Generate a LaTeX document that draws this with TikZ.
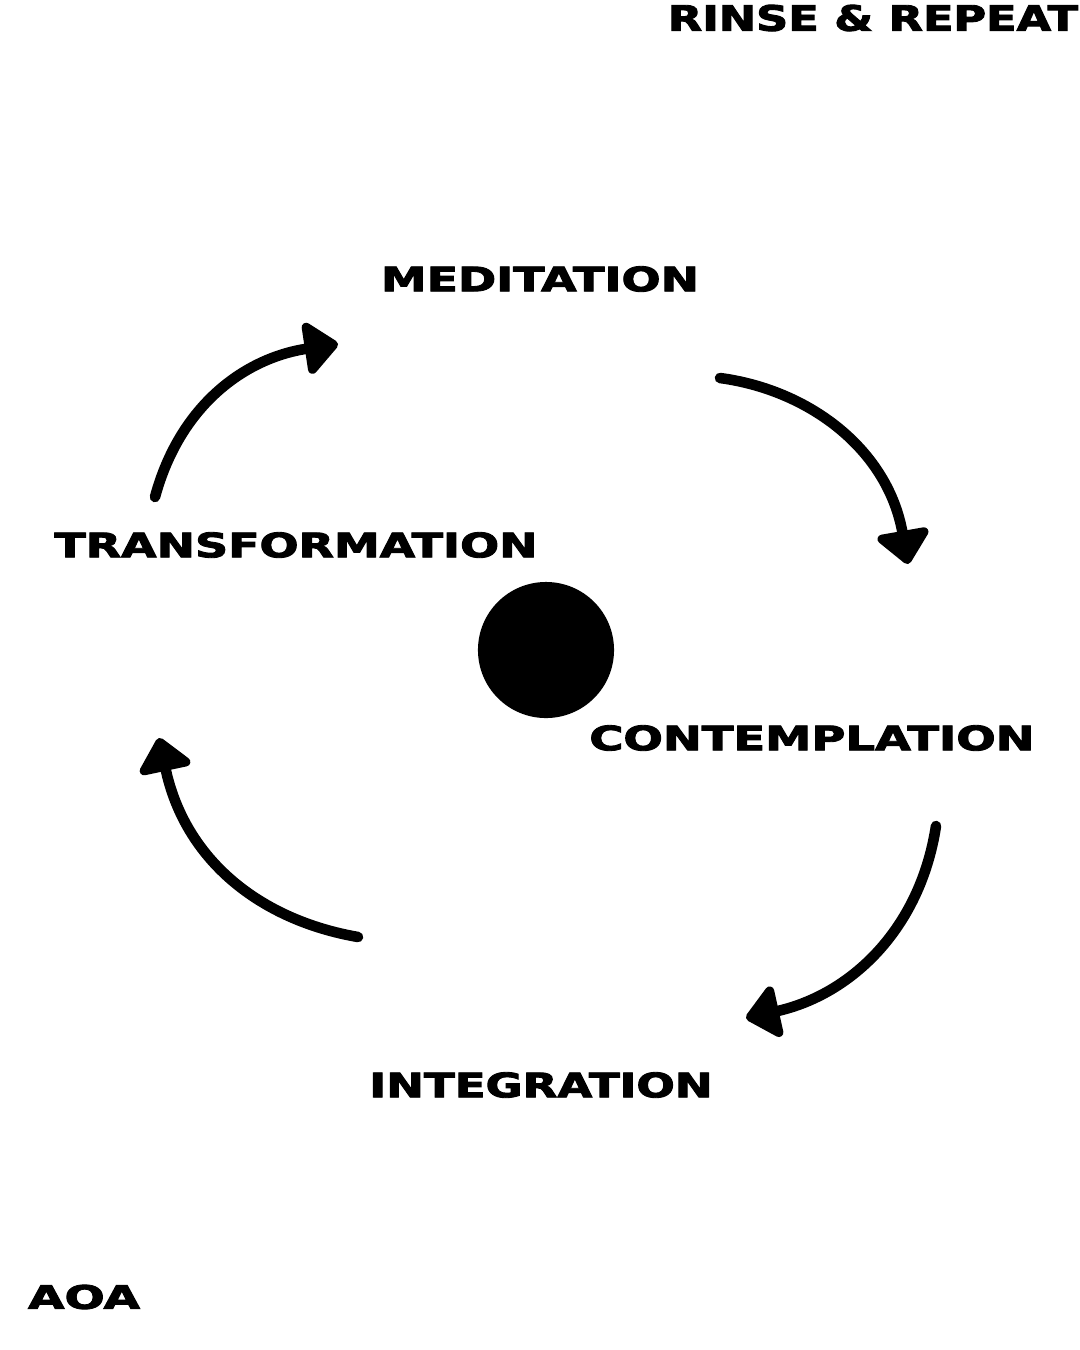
\documentclass[tikz,border=0pt]{standalone}
\usepackage{fontspec}
\usepackage{graphicx}
\setmainfont{DejaVu Sans}[BoldFeatures={FakeBold=2.5}]
\usetikzlibrary{arrows.meta}
% fit a caption into a given width and cap height
\newcommand{\fitlbl}[3]{\resizebox{#1}{#2}{\bfseries #3}}
\begin{document}
\begin{tikzpicture}[x=0.01cm, y=-0.01cm,
    lbl/.style={inner sep=0pt, anchor=center},
    cyc/.style={line width=3pt, line cap=round, line join=round,
      -{Triangle[length=0.36cm, width=0.6cm, round]}}]
  \useasboundingbox[fill=white] (0,0) rectangle (1080,1350);
  % captions
  \node[lbl] (rinse) at (873,18)   {\fitlbl{4.1cm}{0.26cm}{RINSE \& REPEAT}};
  \node[lbl] (medit) at (540,279)  {\fitlbl{3.18cm}{0.25cm}{MEDITATION}};
  \node[lbl] (trans) at (296,545)  {\fitlbl{4.83cm}{0.25cm}{TRANSFORMATION}};
  \node[lbl] (conte) at (812,738)  {\fitlbl{4.45cm}{0.25cm}{CONTEMPLATION}};
  \node[lbl] (integ) at (541,1085) {\fitlbl{3.43cm}{0.25cm}{INTEGRATION}};
  \node[lbl] (aoa)   at (84,1297)  {\fitlbl{1.12cm}{0.24cm}{AOA}};
  % centre dot
  \node[circle, fill=black, minimum size=1.36cm, inner sep=0pt] (dot) at (546,650) {};
  % arrow ends
  \coordinate (a1s) at (155,497);  \coordinate (a1e) at (338,344);
  \coordinate (a2s) at (720,378);  \coordinate (a2e) at (908,564);
  \coordinate (a3s) at (936,826);  \coordinate (a3e) at (746,1018);
  \coordinate (a4s) at (358,937);  \coordinate (a4e) at (159,738);
  \draw[cyc] (a1s) .. controls (180,405) and (245,358) .. (a1e);
  \draw[cyc] (a2s) .. controls (810,390) and (888,450) .. (a2e);
  \draw[cyc] (a3s) .. controls (920,930) and (850,995) .. (a3e);
  \draw[cyc] (a4s) .. controls (260,920) and (185,860) .. (a4e);
\end{tikzpicture}
\end{document}
